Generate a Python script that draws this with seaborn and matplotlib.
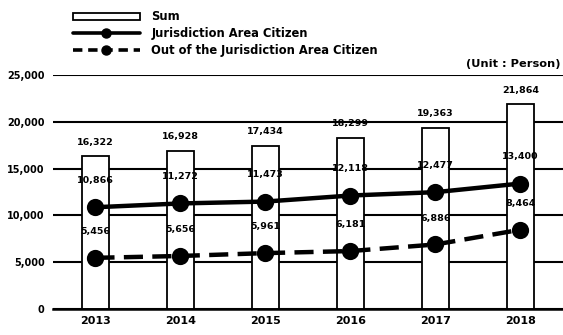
import matplotlib
matplotlib.use("Agg")
import matplotlib.pyplot as plt
import seaborn as sns
import pandas as pd
from matplotlib.patches import Patch
from matplotlib.lines import Line2D

years = ["2013", "2014", "2015", "2016", "2017", "2018"]
sum_vals = [16322, 16928, 17434, 18299, 19363, 21864]
juris_vals = [10866, 11272, 11473, 12118, 12477, 13400]
out_vals = [5456, 5656, 5961, 6181, 6886, 8464]
yticks = [0, 5000, 10000, 15000, 20000, 25000]

sns.set_theme(style="white")
plt.rcParams['font.family'] = ['DejaVu Sans']
plt.rcParams['font.weight'] = 'bold'
plt.rcParams['text.color'] = 'black'
plt.rcParams['xtick.color'] = 'black'
plt.rcParams['ytick.color'] = 'black'

df = pd.DataFrame({"year": years, "sum": sum_vals, "juris": juris_vals, "out": out_vals})

fig = plt.figure(figsize=(5.63, 3.35), dpi=100)
ax = fig.add_axes([0.094, 0.078, 0.906, 0.698])
ax.set_axisbelow(True)

sns.barplot(data=df, x="year", y="sum", ax=ax, color="white", edgecolor="black",
            linewidth=1.3, width=0.32, zorder=2)
sns.pointplot(data=df, x="year", y="juris", ax=ax, color="black", markers="o",
              linestyles="-", markersize=10, linewidth=3.2, zorder=3)
sns.pointplot(data=df, x="year", y="out", ax=ax, color="black", markers="o",
              linestyles="--", markersize=10, linewidth=3.2, zorder=3)
for ln in ax.lines:
    if ln.get_linestyle() == '--':
        ln.set_dashes((4.3, 2.1))

fs = 6.8
for i in range(len(years)):
    ax.text(i, sum_vals[i] + 1500, f"{sum_vals[i]:,}", ha="center", va="center",
            fontsize=fs, fontweight="bold", zorder=5)
    ax.text(i, juris_vals[i] + 2900, f"{juris_vals[i]:,}", ha="center", va="center",
            fontsize=fs, fontweight="bold", zorder=5)
    ax.text(i, out_vals[i] + 2800, f"{out_vals[i]:,}", ha="center", va="center",
            fontsize=fs, fontweight="bold", zorder=5)

ax.set_ylim(0, 25000)
ax.set_xlim(-0.5, 5.5)
ax.set_yticks(yticks)
ax.set_yticklabels([f"{v:,}" for v in yticks], fontsize=7, fontweight="bold")
ax.set_xticklabels(years, fontsize=8, fontweight="bold")
ax.tick_params(axis="y", length=0, pad=6)
ax.tick_params(axis="x", length=0, pad=5)
ax.set_xlabel("")
ax.set_ylabel("")
ax.yaxis.grid(True, color="black", linewidth=1.5)
for s in ["left", "right", "top"]:
    ax.spines[s].set_visible(False)
ax.spines["bottom"].set_color("black")
ax.spines["bottom"].set_linewidth(1.8)

handles = [
    Patch(facecolor="white", edgecolor="black", linewidth=1.3),
    Line2D([], [], color="black", linewidth=2.6, marker="o", markersize=6.5),
    Line2D([], [], color="black", linewidth=2.6, linestyle=(0, (2.6, 1.6)), marker="o", markersize=6.5),
]
labels = ["Sum", "Jurisdiction Area Citizen", "Out of the Jurisdiction Area Citizen"]
fig.legend(handles, labels, loc="upper left", bbox_to_anchor=(0.115, 0.993),
           frameon=False, prop={"size": 8.3, "weight": "bold"},
           handlelength=5.8, handleheight=0.5, labelspacing=0.32, handletextpad=1.0,
           borderaxespad=0.3)

fig.text(0.995, 0.81, "(Unit : Person)", ha="right", va="center", fontsize=8.2, fontweight="bold")

fig.savefig("out.png", dpi=100)
